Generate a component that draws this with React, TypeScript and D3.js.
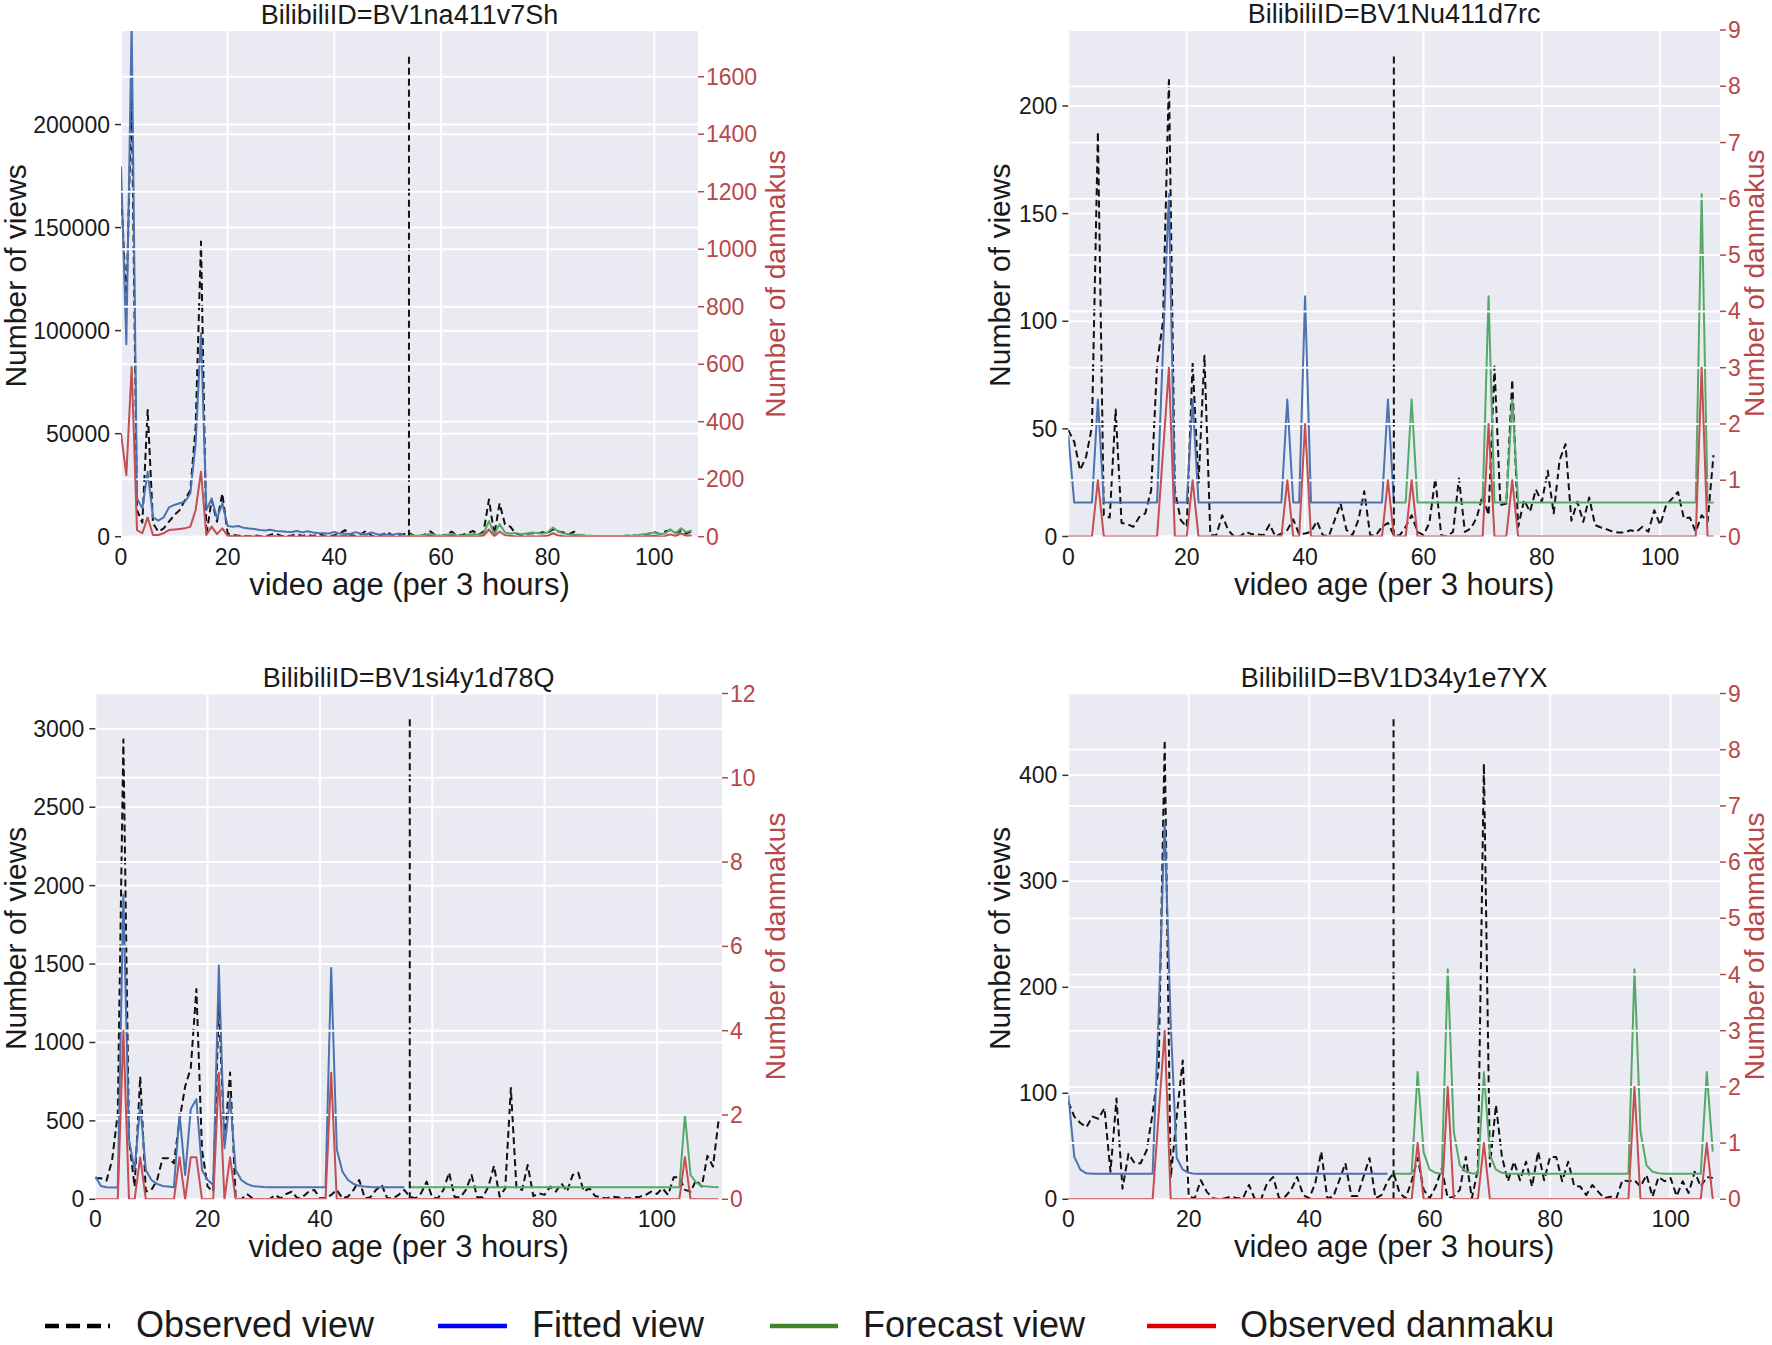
import React from 'react';
import * as d3 from 'd3';

// ---- BV1na411v7Sh ----
const p1Observed = [
  170000, 112000, 215000, 12900, 6800, 61500, 6500, 2400, 4000, 7300,
  10500, 12900, 17800, 22600, 53400, 143200, 800, 17800, 7300, 21000,
  1600, 800, 500, 300, 200, 600, 300, 200, 900, 1500,
  500, 300, 600, 1200, 400, 900, 300, 1300, 600, 200,
  700, 1500, 3200, 800, 400, 1200, 3000, 500, 300, 900,
  2200, 400, 800, 1200, 1800, 400, 300, 1100, 2600, 600,
  400, 1000, 2500, 500, 800, 1600, 2800, 900, 2500, 18100,
  1000, 16200, 6000, 4900, 1500, 800, 1200, 1800, 1500, 2200,
  1800, 3600, 2500, 2000, 1200, 2400, 800, 500, 300, 400,
  200, 300, 200, 400, 300, 500, 600, 400, 800, 1500,
  2400, 1200, 2500, 3200, 1800, 2800, 1500, 2600,
];
const p1Fitted = [
  179600, 93400, 250000, 18600, 13750, 31500, 9400, 7800, 9400, 14200,
  15400, 16200, 17000, 21000, 45300, 98700, 12900, 18600, 8900, 16200,
  5200, 4850, 5200, 4300, 4000, 3700, 3300, 3000, 3400, 2800,
  2600, 2400, 2300, 2800, 2100, 2600, 2000, 1800, 1700, 1600,
  2300, 1500, 1400, 1300, 2200, 1400, 1200, 2100, 1200, 1100,
  1000, 1000, 1500, 1200,
];
const p1Forecast = [
  1000, 500, 600, 800, 1500, 700, 500, 800, 1500, 600,
  500, 900, 1200, 900, 1500, 7600, 1200, 6100, 2000, 1500,
  1800, 1200, 1500, 2000, 1800, 1500, 2000, 4500, 2500, 1500,
  1200, 1000, 800, 600, 500, 400, 400, 300, 300, 300,
  400, 500, 600, 800, 1200, 1500, 2000, 1200, 1500, 3600,
  1500, 4100, 2200, 3000,
];
const p1Danmaku = [
  359, 214, 590, 23, 12, 67, 6, 6, 12, 23,
  25, 27, 29, 35, 93, 226, 6, 35, 9, 29,
  3, 2, 1, 1, 0, 1, 0, 0, 1, 2,
  0, 0, 1, 0, 0, 1, 0, 0, 1, 0,
  0, 2, 3, 0, 0, 1, 2, 0, 0, 1,
  1, 0, 0, 1, 2, 0, 0, 1, 3, 0,
  0, 1, 3, 0, 0, 1, 2, 0, 4, 25,
  2, 18, 5, 3, 1, 0, 1, 2, 1, 2,
  3, 12, 4, 2, 1, 2, 0, 0, 0, 0,
  0, 0, 0, 0, 0, 1, 0, 0, 1, 2,
  3, 1, 2, 8, 2, 12, 3, 4,
];
const p1ViewTicks = [0, 50000, 100000, 150000, 200000];
const p1DanmakuTicks = [0, 200, 400, 600, 800, 1000, 1200, 1400, 1600];

// ---- BV1Nu411d7rc ----
const p2Observed = [
  49.4, 44, 30.8, 37, 51, 188, 9.9, 8.8, 59, 6.3,
  5.7, 4.5, 9.1, 10.7, 21.5, 80.3, 100, 213, 21.5, 7.6,
  4.5, 81, 24.6, 84, 0.6, 0.6, 9.9, 3, 0, 0,
  2.2, 1, 1, 0.6, 5.6, 0, 1.4, 3, 8, 1,
  1.4, 2.2, 7.1, 0.6, 0, 7.6, 15.3, 3, 0.6, 7.6,
  21, 0.6, 0.6, 4.5, 6.3, 0.6, 0.6, 4.5, 9.9, 2.2,
  0.6, 6.3, 27, 0.6, 0, 2.2, 27, 2.2, 3.7, 8.8,
  19.2, 9.9, 79, 14.6, 15.3, 72.9, 4.5, 16.9, 11.5, 21.8,
  16.1, 30.5, 10.7, 35.4, 42.9, 7.3, 16.1, 6.8, 18.1, 5.3,
  4.2, 3.3, 2.2, 1.9, 1.9, 2.9, 2.2, 4.5, 2.2, 12.2,
  5.3, 14.6, 17.6, 20.7, 8.4, 8.8, 2.2, 9.9, 6.8, 37.8,
];
const p2Fitted = [
  47, 15.8, 15.8, 15.8, 15.8, 63.6, 15.8, 15.8, 15.8, 15.8,
  15.8, 15.8, 15.8, 15.8, 15.8, 15.8, 87.5, 159, 15.8, 15.8,
  15.8, 63.6, 15.8, 15.8, 15.8, 15.8, 15.8, 15.8, 15.8, 15.8,
  15.8, 15.8, 15.8, 15.8, 15.8, 15.8, 15.8, 63.6, 15.8, 15.8,
  111.6, 15.8, 15.8, 15.8, 15.8, 15.8, 15.8, 15.8, 15.8, 15.8,
  15.8, 15.8, 15.8, 15.8, 63.6, 15.8,
];
const p2Forecast = [
  15.8, 15.8, 15.8, 63.6, 15.8, 15.8, 15.8, 15.8, 15.8, 15.8,
  15.8, 15.8, 15.8, 15.8, 15.8, 15.8, 111.6, 15.8, 15.8, 15.8,
  63.6, 15.8, 15.8, 15.8, 15.8, 15.8, 15.8, 15.8, 15.8, 15.8,
  15.8, 15.8, 15.8, 15.8, 15.8, 15.8, 15.8, 15.8, 15.8, 15.8,
  15.8, 15.8, 15.8, 15.8, 15.8, 15.8, 15.8, 15.8, 15.8, 15.8,
  15.8, 15.8, 159, 15.8, 15.8,
];
const p2Danmaku = [
  0, 0, 0, 0, 0, 1, 0, 0, 0, 0,
  0, 0, 0, 0, 0, 0, 1.5, 3, 0, 0,
  0, 1, 0, 0, 0, 0, 0, 0, 0, 0,
  0, 0, 0, 0, 0, 0, 0, 1, 0, 0,
  2, 0, 0, 0, 0, 0, 0, 0, 0, 0,
  0, 0, 0, 0, 1, 0, 0, 0, 1, 0,
  0, 0, 0, 0, 0, 0, 0, 0, 0, 0,
  0, 2, 0, 0, 0, 1, 0, 0, 0, 0,
  0, 0, 0, 0, 0, 0, 0, 0, 0, 0,
  0, 0, 0, 0, 0, 0, 0, 0, 0, 0,
  0, 0, 0, 0, 0, 0, 0, 3, 0, 0,
];
const p2ViewTicks = [0, 50, 100, 150, 200];
const p2DanmakuTicks = [0, 1, 2, 3, 4, 5, 6, 7, 8, 9];

// ---- BV1si4y1d78Q ----
const p3Observed = [
  134, 134, 119, 251, 549, 2932, 379, 81, 783, 49,
  60, 123, 262, 262, 230, 506, 719, 836, 1341, 315,
  81, 49, 1250, 357, 809, 6, 0, 34, 6, 0,
  0, 0, 28, 6, 34, 49, 6, 17, 49, 60,
  6, 6, 28, 60, 6, 17, 60, 123, 6, 13,
  60, 92, 6, 6, 28, 60, 17, 6, 38, 113,
  13, 6, 60, 170, 13, 13, 60, 155, 13, 13,
  81, 213, 17, 70, 709, 70, 60, 219, 21, 38,
  28, 81, 49, 102, 49, 155, 170, 49, 70, 21,
  13, 6, 17, 13, 6, 6, 13, 17, 28, 49,
  34, 70, 28, 140, 140, 60, 49, 123, 81, 277,
  209, 506,
];
const p3Fitted = [
  145, 85, 77, 75, 75, 1943, 379, 187, 602, 187,
  123, 98, 85, 81, 77, 545, 155, 575, 638, 187,
  123, 92, 1490, 326, 645, 187, 123, 98, 85, 81,
  78, 77, 77, 77, 77, 77, 77, 77, 77, 77,
  77, 77, 1475, 319, 177, 123, 98, 85, 81, 78,
  77, 77, 77, 77, 77, 77,
];
const p3Forecast = [
  77, 77, 77, 77, 77, 77, 77, 77, 77, 77,
  77, 77, 77, 77, 77, 77, 77, 77, 77, 77,
  77, 77, 77, 77, 77, 77, 77, 77, 77, 77,
  77, 77, 77, 77, 77, 77, 77, 77, 77, 77,
  77, 77, 77, 77, 77, 77, 77, 77, 77, 538,
  155, 106, 85, 81, 78, 77,
];
const p3Danmaku = [
  0, 0, 0, 0, 0, 4, 0, 0, 1, 0,
  0, 0, 0, 0, 0, 1, 0, 1, 1, 0,
  0, 0, 3, 0, 1, 0, 0, 0, 0, 0,
  0, 0, 0, 0, 0, 0, 0, 0, 0, 0,
  0, 0, 3, 0, 0, 0, 0, 0, 0, 0,
  0, 0, 0, 0, 0, 0, 0, 0, 0, 0,
  0, 0, 0, 0, 0, 0, 0, 0, 0, 0,
  0, 0, 0, 0, 0, 0, 0, 0, 0, 0,
  0, 0, 0, 0, 0, 0, 0, 0, 0, 0,
  0, 0, 0, 0, 0, 0, 0, 0, 0, 0,
  0, 0, 0, 0, 0, 1, 0, 0, 0, 0,
  0, 0,
];
const p3ViewTicks = [0, 500, 1000, 1500, 2000, 2500, 3000];
const p3DanmakuTicks = [0, 2, 4, 6, 8, 10, 12];

// ---- BV1D34y1e7YX ----
const p4Observed = [
  92, 78, 72, 68, 78, 76, 86, 26, 95, 10,
  43, 34, 34, 46, 81, 125, 433, 20, 78, 131,
  2.5, 1, 18, 7, 1, 0, 1, 2.5, 1, 1,
  13.5, 0, 0, 15, 21, 1, 2.5, 9, 21, 4,
  1, 15, 45, 1, 2.5, 18, 34, 3, 3, 21,
  39, 1, 4, 17, 25, 6, 1, 17, 39, 9,
  1, 12, 29, 1, 2.5, 9, 40, 1, 28, 411,
  31, 89, 40, 17, 35.5, 18, 35.5, 12, 45, 18,
  40, 40, 17, 35.5, 12.5, 12, 4, 13.5, 7, 1,
  2.5, 1, 18, 17, 18, 12, 23, 2.5, 21, 17,
  20, 3, 17, 6, 26, 12, 21, 20,
];
const p4Fitted = [
  98, 40, 28, 24.5, 24, 24, 24, 24, 24, 24,
  24, 24, 24, 24, 24, 175, 356, 166, 39, 28,
  25, 24, 24, 24, 24, 24, 24, 24, 24, 24,
  24, 24, 24, 24, 24, 24, 24, 24, 24, 24,
  24, 24, 24, 24, 24, 24, 24, 24, 24, 24,
  24, 24, 24, 24,
];
const p4Forecast = [
  24, 24, 24, 24, 120, 44, 28, 25, 24, 217,
  64, 32, 26, 24.5, 24, 120, 42, 28, 25, 24,
  24, 24, 24, 24, 24, 24, 24, 24, 24, 24,
  24, 24, 24, 24, 24, 24, 24, 24, 24, 24,
  217, 64, 32, 26, 24.5, 24, 24, 24, 24, 24,
  24, 24, 120, 45,
];
const p4Danmaku = [
  0, 0, 0, 0, 0, 0, 0, 0, 0, 0,
  0, 0, 0, 0, 0, 1.5, 3, 0, 0, 0,
  0, 0, 0, 0, 0, 0, 0, 0, 0, 0,
  0, 0, 0, 0, 0, 0, 0, 0, 0, 0,
  0, 0, 0, 0, 0, 0, 0, 0, 0, 0,
  0, 0, 0, 0, 0, 0, 0, 0, 1, 0,
  0, 0, 0, 2, 0, 0, 0, 0, 0, 1,
  0, 0, 0, 0, 0, 0, 0, 0, 0, 0,
  0, 0, 0, 0, 0, 0, 0, 0, 0, 0,
  0, 0, 0, 0, 2, 0, 0, 0, 0, 0,
  0, 0, 0, 0, 0, 0, 1, 0,
];
const p4ViewTicks = [0, 100, 200, 300, 400];
const p4DanmakuTicks = [0, 1, 2, 3, 4, 5, 6, 7, 8, 9];

const ageTicks = [0, 20, 40, 60, 80, 100];
const legendLabels = ['Observed view', 'Fitted view', 'Forecast view', 'Observed danmaku'];

// colours
const BG = '#EAEAF2';
const BLUE = '#4C72B0';
const GREEN = '#55A868';
const RED = '#C44E52';
const AXRED = '#B8474A';
const FONT = '"Liberation Sans", Arial, Helvetica, sans-serif';

interface PanelSpec {
  id: string;
  observed: number[];
  fitted: number[];
  fittedStart: number;
  forecast: number[];
  forecastStart: number;
  danmaku: number[];
  viewTicks: number[];
  danmakuTicks: number[];
  xMax: number;
  yMax: number;
  y2Max: number;
  split: number;
  splitTop: number;
  left: number;
  right: number;
  top: number;
  bottom: number;
  yLabelX: number;
  y2LabelX: number;
}

const panels: PanelSpec[] = [
  {
    id: 'BV1na411v7Sh', observed: p1Observed, fitted: p1Fitted, fittedStart: 0,
    forecast: p1Forecast, forecastStart: 54, danmaku: p1Danmaku,
    viewTicks: p1ViewTicks, danmakuTicks: p1DanmakuTicks,
    xMax: 108.2, yMax: 245400, y2Max: 1759, split: 54, splitTop: 233100,
    left: 121, right: 698, top: 31, bottom: 536.7, yLabelX: 26, y2LabelX: 785,
  },
  {
    id: 'BV1Nu411d7rc', observed: p2Observed, fitted: p2Fitted, fittedStart: 0,
    forecast: p2Forecast, forecastStart: 55, danmaku: p2Danmaku,
    viewTicks: p2ViewTicks, danmakuTicks: p2DanmakuTicks,
    xMax: 110.1, yMax: 235.3, y2Max: 9, split: 55, splitTop: 223.5,
    left: 1068.3, right: 1720, top: 30, bottom: 536.5, yLabelX: 1010, y2LabelX: 1764,
  },
  {
    id: 'BV1si4y1d78Q', observed: p3Observed, fitted: p3Fitted, fittedStart: 0,
    forecast: p3Forecast, forecastStart: 56, danmaku: p3Danmaku,
    viewTicks: p3ViewTicks, danmakuTicks: p3DanmakuTicks,
    xMax: 111.6, yMax: 3225, y2Max: 12, split: 56, splitTop: 3064,
    left: 95.3, right: 722, top: 693.5, bottom: 1199.3, yLabelX: 26, y2LabelX: 785,
  },
  {
    id: 'BV1D34y1e7YX', observed: p4Observed, fitted: p4Fitted, fittedStart: 0,
    forecast: p4Forecast, forecastStart: 54, danmaku: p4Danmaku,
    viewTicks: p4ViewTicks, danmakuTicks: p4DanmakuTicks,
    xMax: 108.2, yMax: 477.2, y2Max: 9, split: 54, splitTop: 453.3,
    left: 1068.3, right: 1720, top: 693.5, bottom: 1199.3, yLabelX: 1010, y2LabelX: 1764,
  },
];

const Panel: React.FC<{ p: PanelSpec; idx: number }> = ({ p, idx }) => {
  const x = d3.scaleLinear().domain([0, p.xMax]).range([p.left, p.right]);
  const y = d3.scaleLinear().domain([0, p.yMax]).range([p.bottom, p.top]);
  const y2 = d3.scaleLinear().domain([0, p.y2Max]).range([p.bottom, p.top]);

  const path = (vals: number[], start: number, s: d3.ScaleLinear<number, number>) =>
    d3.line<number>().x((_, i) => x(start + i)).y(d => s(d))(vals) || '';

  const clipId = `clip-${idx}`;
  const cx = (p.left + p.right) / 2;
  const cy = (p.top + p.bottom) / 2;

  return (
    <g>
      <defs>
        <clipPath id={clipId}>
          <rect x={p.left} y={p.top} width={p.right - p.left} height={p.bottom - p.top} />
        </clipPath>
      </defs>
      <rect x={p.left} y={p.top} width={p.right - p.left} height={p.bottom - p.top} fill={BG} />

      {/* left axis grid */}
      {ageTicks.map(t => (
        <line key={`gx${t}`} x1={x(t)} x2={x(t)} y1={p.top} y2={p.bottom} stroke="#fff" strokeWidth={2} />
      ))}
      {p.viewTicks.map(t => (
        <line key={`gy${t}`} x1={p.left} x2={p.right} y1={y(t)} y2={y(t)} stroke="#fff" strokeWidth={2} />
      ))}

      <g clipPath={`url(#${clipId})`} fill="none" strokeLinejoin="round">
        <path d={path(p.observed, 0, y)} stroke="#111" strokeWidth={2} strokeDasharray="7,4" />
        <path d={path(p.fitted, p.fittedStart, y)} stroke={BLUE} strokeWidth={2} />
        <path d={path(p.forecast, p.forecastStart, y)} stroke={GREEN} strokeWidth={2} />
        <line x1={x(p.split)} x2={x(p.split)} y1={y(0)} y2={y(p.splitTop)} stroke="#111" strokeWidth={2} strokeDasharray="7,4" />
      </g>

      {/* twin axis grid drawn over the view lines */}
      {p.danmakuTicks.map(t => (
        <line key={`gy2${t}`} x1={p.left} x2={p.right} y1={y2(t)} y2={y2(t)} stroke="#fff" strokeWidth={2} />
      ))}

      <g clipPath={`url(#${clipId})`} fill="none">
        <path d={path(p.danmaku, 0, y2)} stroke={RED} strokeWidth={2} strokeLinejoin="round" />
      </g>

      {/* x axis */}
      {ageTicks.map(t => (
        <text key={`xt${t}`} x={x(t)} y={p.bottom + 28} textAnchor="middle" fontSize={23} fill="#1a1a1a">{t}</text>
      ))}
      <text x={cx} y={p.bottom + 58} textAnchor="middle" fontSize={31} fill="#1a1a1a">video age (per 3 hours)</text>

      {/* left axis */}
      {p.viewTicks.map(t => (
        <g key={`yt${t}`}>
          <line x1={p.left - 6} x2={p.left} y1={y(t)} y2={y(t)} stroke="#333" strokeWidth={1.5} />
          <text x={p.left - 11} y={y(t)} textAnchor="end" dominantBaseline="central" fontSize={23} fill="#1a1a1a">{t}</text>
        </g>
      ))}
      <text transform={`translate(${p.yLabelX},${cy - 8}) rotate(-90)`} textAnchor="middle" fontSize={30} fill="#1a1a1a">Number of views</text>

      {/* right axis */}
      {p.danmakuTicks.map(t => (
        <g key={`y2t${t}`}>
          <line x1={p.right} x2={p.right + 6} y1={y2(t)} y2={y2(t)} stroke={AXRED} strokeWidth={1.5} />
          <text x={p.right + 8} y={y2(t)} dominantBaseline="central" fontSize={23} fill={AXRED}>{t}</text>
        </g>
      ))}
      <text transform={`translate(${p.y2LabelX},${cy}) rotate(-90)`} textAnchor="middle" fontSize={28} fill={AXRED}>Number of danmakus</text>

      <text x={cx} y={p.top - 7} textAnchor="middle" fontSize={27} fill="#1a1a1a">BilibiliID={p.id}</text>
    </g>
  );
};

const legendItems = [
  { label: legendLabels[0], color: '#000', dash: '14,7', x1: 45, x2: 110, tx: 136 },
  { label: legendLabels[1], color: '#0000ff', dash: undefined, x1: 438, x2: 507, tx: 532 },
  { label: legendLabels[2], color: '#3f8427', dash: undefined, x1: 770, x2: 838, tx: 863 },
  { label: legendLabels[3], color: '#e00000', dash: undefined, x1: 1147, x2: 1216, tx: 1240 },
];

const App: React.FC = () => {
  return (
    <svg
      width={1772}
      height={1345}
      viewBox="0 0 1772 1345"
      style={{ position: 'absolute', left: 0, top: 0, background: '#fff', fontFamily: FONT }}
    >
      <rect x={0} y={0} width={1772} height={1345} fill="#fff" />
      {panels.map((p, i) => <Panel key={p.id} p={p} idx={i} />)}
      <g>
        {legendItems.map(it => (
          <g key={it.label}>
            <line x1={it.x1} x2={it.x2} y1={1326} y2={1326} stroke={it.color} strokeWidth={4.5} strokeDasharray={it.dash} />
            <text x={it.tx} y={1337} fontSize={36} fill="#1a1a1a">{it.label}</text>
          </g>
        ))}
      </g>
    </svg>
  );
};

export default App;
